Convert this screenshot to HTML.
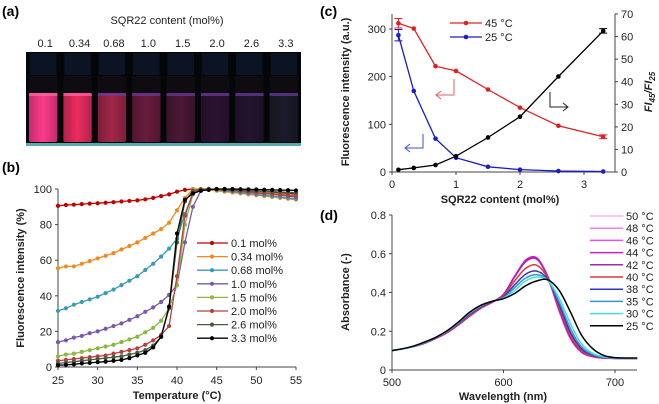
<!DOCTYPE html>
<html><head><meta charset="utf-8">
<style>
html,body{margin:0;padding:0;background:#fff;}
svg{display:block;font-family:"Liberation Sans",sans-serif;}
.t{font-size:11px;fill:#222;}
.b{font-size:11px;font-weight:bold;fill:#222;}
.p{font-size:14px;font-weight:bold;fill:#000;}
</style></head>
<body>
<svg id="fig" width="659" height="404" viewBox="0 0 659 404" xmlns="http://www.w3.org/2000/svg">
<text x="2" y="16" class="p">(a)</text>
<text x="2" y="172" class="p">(b)</text>
<text x="320" y="16" class="p">(c)</text>
<text x="320" y="220" class="p">(d)</text>
<text x="167" y="24" class="t" text-anchor="middle">SQR22 content (mol%)</text>
<g id="photo"></g>
<g id="pb"></g>
<g id="pc"></g>
<g id="pd"></g>
</svg>
<script>
// ---- Panel a data
const vialLabels=['0.1','0.34','0.68','1.0','1.5','2.0','2.6','3.3'];
const vialColors=['#ff3a8a','#ec2c60','#a3264a','#6a1c3c','#4a1834','#2c1232','#24142e','#1c1a2a'];
// ---- Panel b data
const temps=[25,26,27,28,29,30,31,32,33,34,35,36,37,38,39,40,41,42,43,44,45,46,47,48,49,50,51,52,53,54,55];
const bNames=['0.1 mol%','0.34 mol%','0.68 mol%','1.0 mol%','1.5 mol%','2.0 mol%','2.6 mol%','3.3 mol%'];
const bColors=['#c00000','#f08a20','#3a9ab8','#7a5aa8','#8ab840','#b84040','#4a5a40','#000000'];
const b01=[90.5,91,91.2,91.5,91.8,92,92.3,92.6,93,93.3,93.6,94.2,95,96,97,98.5,99.5,100,100,100,99.8,99.6,99.4,99.2,99,98.8,98.5,98.2,98,97.6,97.2];
const b034=[55.5,56.5,56.5,58,59.5,61,62.5,64,66,68,70,72.5,75,77.5,81,88,95,100,100,99.5,99,98.5,98,97.5,97,96.5,96,95.5,95,94.5,94];
const b068=[31.5,33,35,36.5,38,39.5,41.5,43.5,46,48.5,51,54.5,58,62,66.5,72,86,97,99.5,100,99.5,99,98.5,98,97.5,97,96.5,96,95.5,95,94.5];
const b10=[14,15,16.5,17.5,19,20,21.5,23,24.5,26.5,28.5,31,33.5,36.5,40.5,46,70,90,99,100,99.7,99.4,99,98.6,98.2,97.8,97.4,97,96.5,96,95.5];
const b15=[6,7,7.5,8.5,9.5,10.5,11.5,12.5,14,15.5,17,19.5,22,26,33,46,80,97,99.5,100,99.8,99.5,99.2,98.9,98.6,98.3,98,97.6,97.2,96.8,96.4];
const b20=[3.5,4,4.5,5,5.5,6,6.5,7.5,8.5,9.5,10.5,12.5,15,18,23,51,85,98,99.5,100,99.8,99.5,99.2,98.8,98.4,98,97.6,97.2,96.8,96.4,96];
const b26=[2,2.5,3,3.5,4,4.5,5,5.5,6,7,8,9.5,12,17,33,70,93,99,99.8,100,99.9,99.7,99.5,99.3,99.1,98.9,98.7,98.5,98.3,98.1,97.9];
const b33=[1,1.2,1.5,2,2.3,2.7,3,3.5,4,5,6.5,8,11,17,34,75,94,97.5,99,99.5,100,100,100,99.9,99.8,99.7,99.6,99.5,99.4,99.3,99.2];
const bSeries=[b01,b034,b068,b10,b15,b20,b26,b33];
const bXTicks=[25,30,35,40,45,50,55];
const bYTicks=[0,20,40,60,80,100];
// ---- Panel c data
const cX=[0.1,0.34,0.68,1.0,1.5,2.0,2.6,3.3];
const c45=[312,301,222,212,173,135,97,74];
const c25=[287,170,70,30,11,5,2,1];
const cRatio=[1,1.8,3.1,7,15.3,24.5,42.3,62.5];
const cXTicks=[0,1,2,3];
const cYTicks=[0,100,200,300];
const cRTicks=[0,10,20,30,40,50,60,70];
// ---- Panel d data
const wl=[500,510,520,530,540,550,560,570,580,590,600,610,620,630,640,650,660,670,680,690,700,710,720];
const dNames=['50 °C','48 °C','46 °C','44 °C','42 °C','40 °C','38 °C','35 °C','30 °C','25 °C'];
const dColors=['#f4b8f0','#f27cec','#e450e4','#d21cd2','#a02ca8','#e03838','#3434c4','#3498cc','#40e0e0','#000000'];
const s50=[0.10,0.11,0.122,0.14,0.165,0.195,0.235,0.28,0.32,0.35,0.39,0.48,0.56,0.57,0.47,0.30,0.16,0.09,0.068,0.062,0.06,0.06,0.06];
const s48=[0.10,0.11,0.122,0.14,0.165,0.195,0.235,0.28,0.32,0.35,0.39,0.48,0.562,0.572,0.472,0.302,0.162,0.091,0.068,0.062,0.06,0.06,0.06];
const s46=[0.10,0.11,0.122,0.14,0.165,0.195,0.235,0.28,0.32,0.35,0.39,0.482,0.565,0.575,0.475,0.305,0.164,0.092,0.069,0.062,0.06,0.06,0.06];
const s44=[0.10,0.11,0.122,0.14,0.165,0.195,0.235,0.28,0.32,0.35,0.39,0.484,0.568,0.578,0.478,0.308,0.166,0.093,0.069,0.062,0.06,0.06,0.06];
const s42=[0.10,0.11,0.122,0.14,0.165,0.196,0.236,0.281,0.321,0.351,0.39,0.48,0.56,0.572,0.48,0.312,0.17,0.095,0.07,0.063,0.06,0.06,0.06];
const s40=[0.10,0.11,0.123,0.142,0.167,0.2,0.24,0.286,0.325,0.353,0.385,0.46,0.525,0.54,0.47,0.32,0.18,0.10,0.072,0.064,0.061,0.06,0.06];
const s38=[0.10,0.11,0.123,0.143,0.168,0.202,0.243,0.29,0.328,0.354,0.378,0.44,0.495,0.51,0.465,0.335,0.195,0.11,0.076,0.065,0.061,0.06,0.06];
const s35=[0.10,0.11,0.124,0.144,0.169,0.203,0.246,0.294,0.331,0.355,0.374,0.425,0.475,0.492,0.462,0.35,0.215,0.12,0.08,0.066,0.062,0.061,0.061];
const s30=[0.10,0.11,0.124,0.145,0.17,0.204,0.248,0.297,0.333,0.355,0.37,0.41,0.46,0.48,0.462,0.37,0.24,0.135,0.086,0.068,0.062,0.061,0.061];
const s25=[0.10,0.11,0.125,0.146,0.171,0.205,0.25,0.30,0.335,0.355,0.368,0.395,0.435,0.46,0.465,0.41,0.30,0.18,0.11,0.075,0.064,0.062,0.062];
const dSeries=[s50,s48,s46,s44,s42,s40,s38,s35,s30,s25];
const dXTicks=[500,600,700];
const dYTicks=[0,0.2,0.4,0.6,0.8];

const NS='http://www.w3.org/2000/svg';
function mk(parent,tag,attrs,text){const e=document.createElementNS(NS,tag);for(const k in attrs)e.setAttribute(k,attrs[k]);if(text!==undefined)e.textContent=text;parent.appendChild(e);return e;}
function fmt(v){return String(Math.round(v*10)/10);}

// ---------- Panel a photo
(function(){
 const g=document.getElementById('photo');
 const defs=mk(g,'defs',{});
 let r=mk(g,'rect',{x:26,y:52,width:275,height:94,fill:'#050608'});
 
 r=mk(g,'rect',{x:26,y:143,width:275,height:3,fill:'#5aa8b0'});
 
 const w=275/vialLabels.length;
 vialLabels.forEach((lab,i)=>{
  const x0=26+i*w;
  const t=mk(g,'text',{x:x0+w/2+2,y:47,'text-anchor':'middle',class:'t','font-size':'12'},lab);
  
  const gr=mk(defs,'linearGradient',{id:'lg'+i,x1:0,y1:0,x2:1,y2:0});
  mk(gr,'stop',{offset:'0',"stop-color":vialColors[i],"stop-opacity":'0.75'});
  mk(gr,'stop',{offset:'0.5',"stop-color":vialColors[i]});
  mk(gr,'stop',{offset:'1',"stop-color":vialColors[i],"stop-opacity":'0.75'});
  const cap=mk(g,'rect',{x:x0+4,y:53,width:w-8,height:22,fill:'#0c1424'});
  
  const glass=mk(g,'rect',{x:x0+3,y:76,width:w-6,height:17,fill:'#0e0c10'});
  
  const liq=mk(g,'rect',{x:x0+3,y:93,width:w-6,height:49,rx:2,fill:'url(#lg'+i+')'});
  
  const top=mk(g,'rect',{x:x0+3,y:93,width:w-6,height:3,fill:i<2?'#ff6aa8':'#6a3aa0',opacity:0.7});
  
 });
})();

// ---------- Panel b
(function(){
 const g=document.getElementById('pb');
 const bx=t=>58+(t-25)*(238/30), by=v=>367-v*1.78;
 let e=mk(g,'line',{x1:58,y1:189,x2:58,y2:367,stroke:'#444','stroke-width':1});
 
 e=mk(g,'line',{x1:58,y1:367,x2:296,y2:367,stroke:'#444','stroke-width':1});
 
 bYTicks.forEach(v=>{mk(g,'line',{x1:55,x2:58,y1:by(v),y2:by(v),stroke:'#444'});
  const t=mk(g,'text',{x:52,y:by(v)+4,'text-anchor':'end',class:'t'},fmt(v));
  });
 bXTicks.forEach(v=>{mk(g,'line',{x1:bx(v),x2:bx(v),y1:367,y2:370,stroke:'#444'});
  const t=mk(g,'text',{x:bx(v),y:384,'text-anchor':'middle',class:'t'},fmt(v));
  });
 let t=mk(g,'text',{x:177,y:399,'text-anchor':'middle',class:'b'},'Temperature (°C)');
 
 t=mk(g,'text',{x:0,y:0,transform:'translate(24,278) rotate(-90)','text-anchor':'middle',class:'b'},'Fluorescence intensity (%)');
 
 bSeries.forEach((s,k)=>{
  const d=s.map((v,i)=>(i?'L':'M')+bx(temps[i]).toFixed(1)+','+by(v).toFixed(1)).join('');
  const p=mk(g,'path',{d:d,fill:'none',stroke:bColors[k],'stroke-width':1.3});
  
  s.forEach((v,i)=>{const c=mk(g,'circle',{cx:bx(temps[i]),cy:by(v),r:2.1,fill:bColors[k]});
   });
  const ly=243+k*13.6;
  const l=mk(g,'line',{x1:197,x2:228,y1:ly,y2:ly,stroke:bColors[k],'stroke-width':1.3});
  
  mk(g,'circle',{cx:212,cy:ly,r:2.1,fill:bColors[k]});
  const lt=mk(g,'text',{x:231,y:ly+4,class:'t'},bNames[k]);
  
 });
})();

// ---------- Panel c
(function(){
 const g=document.getElementById('pc');
 const cx=x=>392+x*64, cyL=v=>172-v*(143/300), cyR=v=>172-v*(158/70);
 let e=mk(g,'path',{d:'M392,14V172H615V14',fill:'none',stroke:'#444','stroke-width':1});
 
 cYTicks.forEach(v=>{mk(g,'line',{x1:389,x2:392,y1:cyL(v),y2:cyL(v),stroke:'#444'});
  const t=mk(g,'text',{x:386,y:cyL(v)+4,'text-anchor':'end',class:'t'},fmt(v));
  });
 cRTicks.forEach(v=>{mk(g,'line',{x1:615,x2:618,y1:cyR(v),y2:cyR(v),stroke:'#444'});
  const t=mk(g,'text',{x:621,y:cyR(v)+4,class:'t'},fmt(v));
  });
 cXTicks.forEach(v=>{mk(g,'line',{x1:cx(v),x2:cx(v),y1:172,y2:175,stroke:'#444'});
  const t=mk(g,'text',{x:cx(v),y:188,'text-anchor':'middle',class:'t'},fmt(v));
  });
 let t=mk(g,'text',{x:500,y:203,'text-anchor':'middle',class:'b'},'SQR22 content (mol%)');
 
 t=mk(g,'text',{x:0,y:0,transform:'translate(349,92) rotate(-90)','text-anchor':'middle',class:'b'},'Fluorescence intensity (a.u.)');
 
 t=mk(g,'text',{x:0,y:0,transform:'translate(652,92) rotate(-90)','text-anchor':'middle',class:'b','font-style':'italic'});
 t.innerHTML='FI<tspan font-size="8" dy="3">45</tspan><tspan dy="-3">/FI</tspan><tspan font-size="8" dy="3">25</tspan>';
 
 const series=[[c45,'#e02020',cyL],[c25,'#1a1ad0',cyL],[cRatio,'#000',cyR]];
 series.forEach(([s,col,fy])=>{
  const d=s.map((v,i)=>(i?'L':'M')+cx(cX[i]).toFixed(1)+','+fy(v).toFixed(1)).join('');
  const p=mk(g,'path',{d:d,fill:'none',stroke:col,'stroke-width':1.3});
  
  s.forEach((v,i)=>{const c=mk(g,'circle',{cx:cx(cX[i]),cy:fy(v),r:2.3,fill:col});
   });
 });
 [[c45,0,'#e02020',cyL,10],[c25,0,'#1a1ad0',cyL,12],[c45,7,'#e02020',cyL,4],[cRatio,7,'#000',cyR,1]].forEach(([s,i,col,fy,err])=>{
  const x=cx(cX[i]);const y1=fy(s[i]+err),y2=fy(s[i]-err);
  const eb=mk(g,'path',{d:`M${x-4},${y1}H${x+4}M${x},${y1}V${y2}M${x-4},${y2}H${x+4}`,stroke:col,fill:'none','stroke-width':1});
  
 });
 [['45 °C','#e02020',23],['25 °C','#1a1ad0',37]].forEach(([n,col,y])=>{
  const l=mk(g,'line',{x1:450,x2:482,y1:y,y2:y,stroke:col,'stroke-width':1.3});
  
  mk(g,'circle',{cx:466,cy:y,r:2.3,fill:col});
  const lt=mk(g,'text',{x:485,y:y+4,class:'t','font-size':'12'},n);
  
 });
 const arrows=[['M454,79V95H436M441,91L436,95L441,99','#e06060','c-arrow-45'],['M423,134V148H405M410,144L405,148L410,152','#4050d0','c-arrow-25'],['M550,92V107H568M563,103L568,107L563,111','#222','c-arrow-ratio']];
 arrows.forEach(([d,col,n])=>{const a=mk(g,'path',{d:d,fill:'none',stroke:col,'stroke-width':1});
  });
})();

// ---------- Panel d
(function(){
 const g=document.getElementById('pd');
 const dx=w=>392+(w-500)*1.115, dy=a=>370-a*(155/0.8);
 let e=mk(g,'path',{d:'M392,215V370H637',fill:'none',stroke:'#444','stroke-width':1});
 
 dYTicks.forEach(v=>{mk(g,'line',{x1:389,x2:392,y1:dy(v),y2:dy(v),stroke:'#444'});
  const t=mk(g,'text',{x:386,y:dy(v)+4,'text-anchor':'end',class:'t'},fmt(v));
  });
 dXTicks.forEach(v=>{mk(g,'line',{x1:dx(v),x2:dx(v),y1:370,y2:373,stroke:'#444'});
  const t=mk(g,'text',{x:dx(v),y:386,'text-anchor':'middle',class:'t'},fmt(v));
  });
 let t=mk(g,'text',{x:503,y:400,'text-anchor':'middle',class:'b'},'Wavelength (nm)');
 
 t=mk(g,'text',{x:0,y:0,transform:'translate(349,292) rotate(-90)','text-anchor':'middle',class:'b'},'Absorbance (-)');
 
 function smooth(pts){let d='M'+pts[0][0].toFixed(1)+','+pts[0][1].toFixed(1);
  for(let i=0;i<pts.length-1;i++){const p0=pts[Math.max(0,i-1)],p1=pts[i],p2=pts[i+1],p3=pts[Math.min(pts.length-1,i+2)];
   const c1=[p1[0]+(p2[0]-p0[0])/6,p1[1]+(p2[1]-p0[1])/6],c2=[p2[0]-(p3[0]-p1[0])/6,p2[1]-(p3[1]-p1[1])/6];
   d+=`C${c1[0].toFixed(1)},${c1[1].toFixed(1)} ${c2[0].toFixed(1)},${c2[1].toFixed(1)} ${p2[0].toFixed(1)},${p2[1].toFixed(1)}`;}
  return d;}
 dSeries.forEach((s,k)=>{
  const pts=s.map((v,i)=>[dx(wl[i]),dy(v)]);
  const p=mk(g,'path',{d:smooth(pts),fill:'none',stroke:dColors[k],'stroke-width':1.5});
  
 });
 dNames.forEach((n,k)=>{
  const y=216+k*12.2;
  const l=mk(g,'line',{x1:590,x2:623,y1:y,y2:y,stroke:dColors[k],'stroke-width':1.5});
  
  const lt=mk(g,'text',{x:626,y:y+4,class:'t'},n);
  
 });
})();
</script>
</body></html>
